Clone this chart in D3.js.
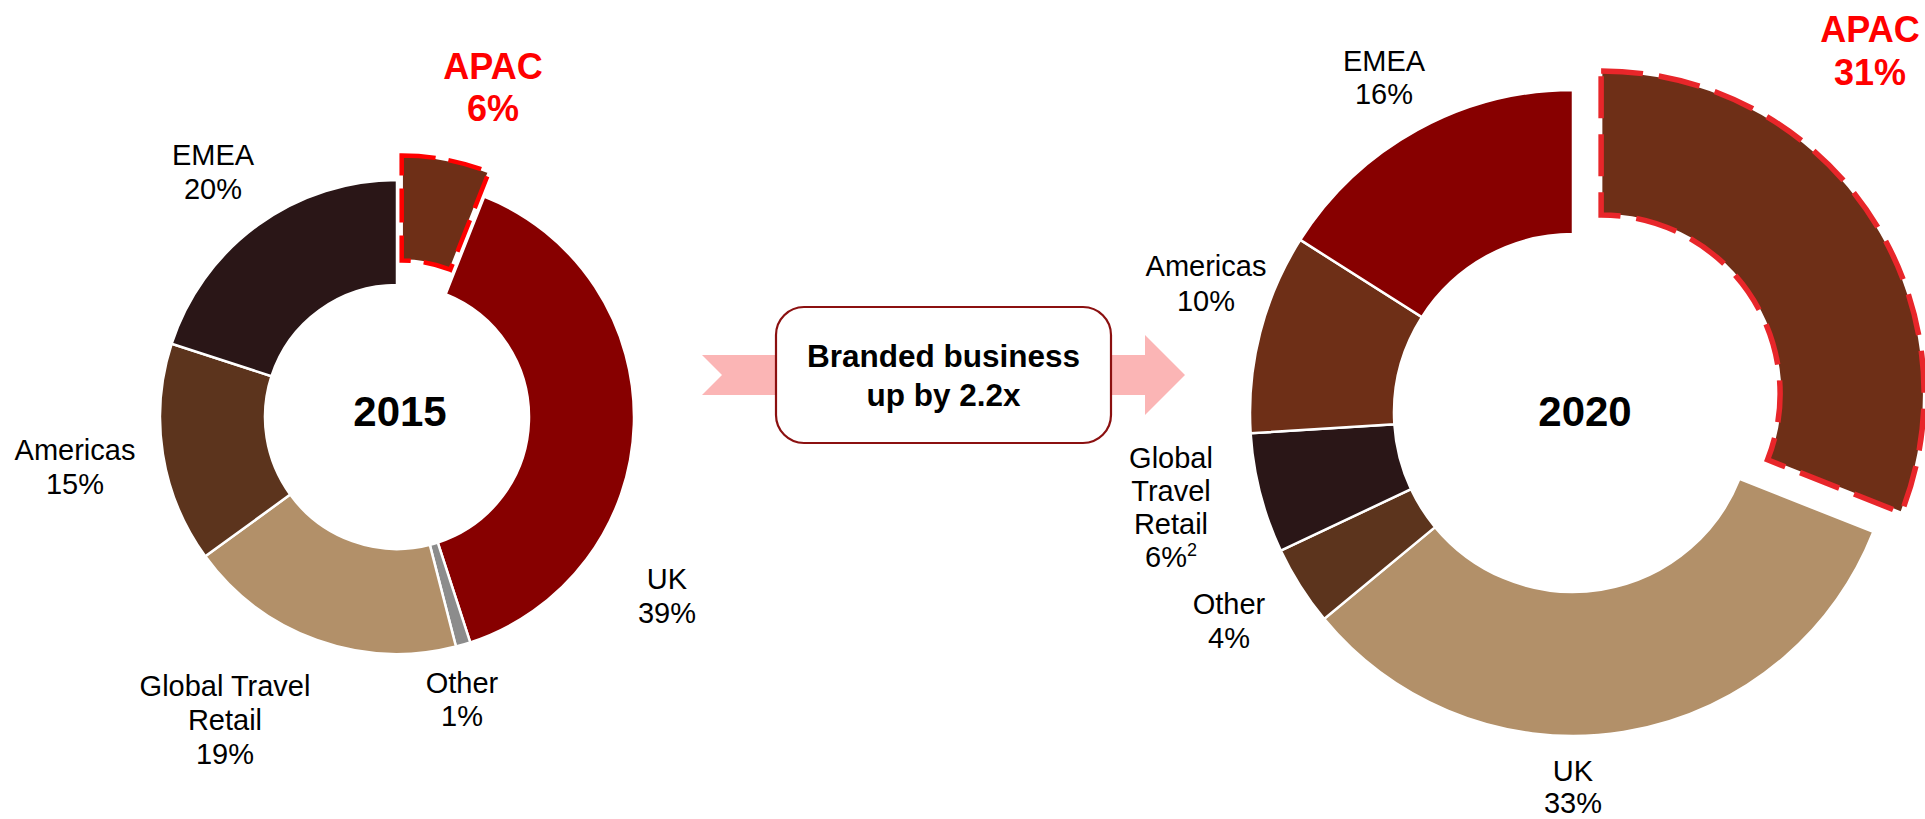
<!DOCTYPE html>
<html>
<head>
<meta charset="utf-8">
<script src="https://cdn.jsdelivr.net/npm/d3@7"></script>
<style>
  html, body { margin: 0; padding: 0; background: #ffffff; }
  svg { display: block; }
  text { font-family: "Liberation Sans", Arial, Helvetica, sans-serif; }
</style>
</head>
<body>
<svg id="chart" width="1925" height="819"></svg>
<script>
// Regional split of branded revenue, listed clockwise from 12 o'clock
const categories = ["APAC", "UK", "Other", "Global Travel Retail", "Americas", "EMEA"];
const share2015 = [6, 39, 1, 19, 15, 20];
const share2020 = [31, 33, 4, 6, 10, 16];
const years = ["2015", "2020"];
const colors2015 = ["#6E2F17", "#870000", "#8C8C8C", "#B29069", "#5C341D", "#2A1617"];
const colors2020 = ["#6E2F17", "#B29069", "#5C341D", "#2A1617", "#6E2F17", "#870000"];
const labelLines2015 = [["APAC", "6%"], ["UK", "39%"], ["Other", "1%"], ["Global Travel", "Retail", "19%"], ["Americas", "15%"], ["EMEA", "20%"]];
const labelLines2020 = [["APAC", "31%"], ["UK", "33%"], ["Other", "4%"], ["Global", "Travel", "Retail", "6%"], ["Americas", "10%"], ["EMEA", "16%"]];
const highlight = "APAC";
const calloutText = ["Branded business", "up by 2.2x"];

// Layout of the two rings and their hand-placed labels (offsets from ring centre)
const rings = [
  {
    year: years[0], values: share2015, colors: colors2015, lines: labelLines2015,
    cx: 397, cy: 417, outer: 237, inner: 132, explode: 25,
    hiStroke: "#FF0000", hiWidth: 4.5, hiDash: "34,13",
    yearDx: 3, yearDy: 9,
    labelAt: [[96, -338], [270, 172], [65, 276], [-172, 279], [-322, 43], [-184, -252]],
    lineGap: [42, 34, 33, 34, 34, 33.5]
  },
  {
    year: years[1], values: share2020, colors: colors2020, lines: labelLines2020,
    cx: 1573, cy: 413, outer: 323, inner: 179, explode: 34,
    hiStroke: "#E8262A", hiWidth: 5.5, hiDash: "42,16",
    yearDx: 12, yearDy: 13,
    labelAt: [[297, -371], [0, 368], [-344, 201], [-402, 55], [-367, -137], [-189, -342]],
    lineGap: [43, 32, 34, 33, 34.5, 33]
  }
];

const svg = d3.select("#chart");

const pie = d3.pie().sort(null).value(d => d).startAngle(0).endAngle(2 * Math.PI);

rings.forEach(ring => {
  const g = svg.append("g").attr("transform", `translate(${ring.cx},${ring.cy})`);
  const arc = d3.arc().innerRadius(ring.inner).outerRadius(ring.outer);
  const arcs = pie(ring.values);

  const slices = g.selectAll("g.slice")
    .data(arcs)
    .enter().append("g")
    .attr("class", "slice")
    .attr("transform", (d, i) => {
      if (categories[i] !== highlight) return null;
      const mid = (d.startAngle + d.endAngle) / 2;
      return `translate(${Math.sin(mid) * ring.explode},${-Math.cos(mid) * ring.explode})`;
    });

  slices.append("path")
    .attr("d", arc)
    .attr("fill", (d, i) => ring.colors[i])
    .attr("stroke", "#ffffff")
    .attr("stroke-width", 2.5)
    .attr("stroke-linejoin", "miter");

  // dashed outline on the highlighted region
  slices.filter((d, i) => categories[i] === highlight)
    .append("path")
    .attr("d", arc)
    .attr("fill", "none")
    .attr("stroke", ring.hiStroke)
    .attr("stroke-width", ring.hiWidth)
    .attr("stroke-dasharray", ring.hiDash)
    .attr("stroke-linejoin", "miter");

  // year in the hole
  g.append("text")
    .attr("x", ring.yearDx)
    .attr("y", ring.yearDy)
    .attr("text-anchor", "middle")
    .attr("font-size", 42)
    .attr("font-weight", "bold")
    .attr("fill", "#000")
    .text(ring.year);

  // region labels
  arcs.forEach((d, i) => {
    const isHi = categories[i] === highlight;
    const [lx, ly] = ring.labelAt[i];
    const t = g.append("text")
      .attr("text-anchor", "middle")
      .attr("font-size", isHi ? 36 : 29)
      .attr("font-weight", isHi ? "bold" : "normal")
      .attr("fill", isHi ? "#FF0000" : "#000");
    ring.lines[i].forEach((line, k) => {
      t.append("tspan")
        .attr("x", lx)
        .attr("y", ly + k * ring.lineGap[i])
        .text(line);
    });
    // footnote marker on the 2020 travel-retail share
    if (ring.year === "2020" && categories[i] === "Global Travel Retail") {
      t.select("tspan:last-child")
        .append("tspan")
        .attr("font-size", 18)
        .attr("dy", -11)
        .text("2");
    }
  });
});

// Growth arrow between the rings, with a rounded callout on top
const arrow = svg.append("g");
const ax0 = 702, ax1 = 1145, tip = 1185, ay = 375, half = 20, headHalf = 40, notch = 20;
arrow.append("path")
  .attr("d", d3.line()([
    [ax0, ay - half], [ax1, ay - half], [ax1, ay - headHalf], [tip, ay],
    [ax1, ay + headHalf], [ax1, ay + half], [ax0, ay + half], [ax0 + notch, ay]
  ]) + "Z")
  .attr("fill", "#FBB5B5");

arrow.append("rect")
  .attr("x", 776).attr("y", 307)
  .attr("width", 335).attr("height", 136)
  .attr("rx", 28).attr("ry", 28)
  .attr("fill", "#ffffff")
  .attr("stroke", "#8B1010")
  .attr("stroke-width", 2.2);

const callout = arrow.append("text")
  .attr("text-anchor", "middle")
  .attr("font-size", 31.5)
  .attr("font-weight", "bold")
  .attr("fill", "#000");
calloutText.forEach((line, k) => {
  callout.append("tspan").attr("x", 943.5).attr("y", 367 + k * 39).text(line);
});
</script>
</body>
</html>
